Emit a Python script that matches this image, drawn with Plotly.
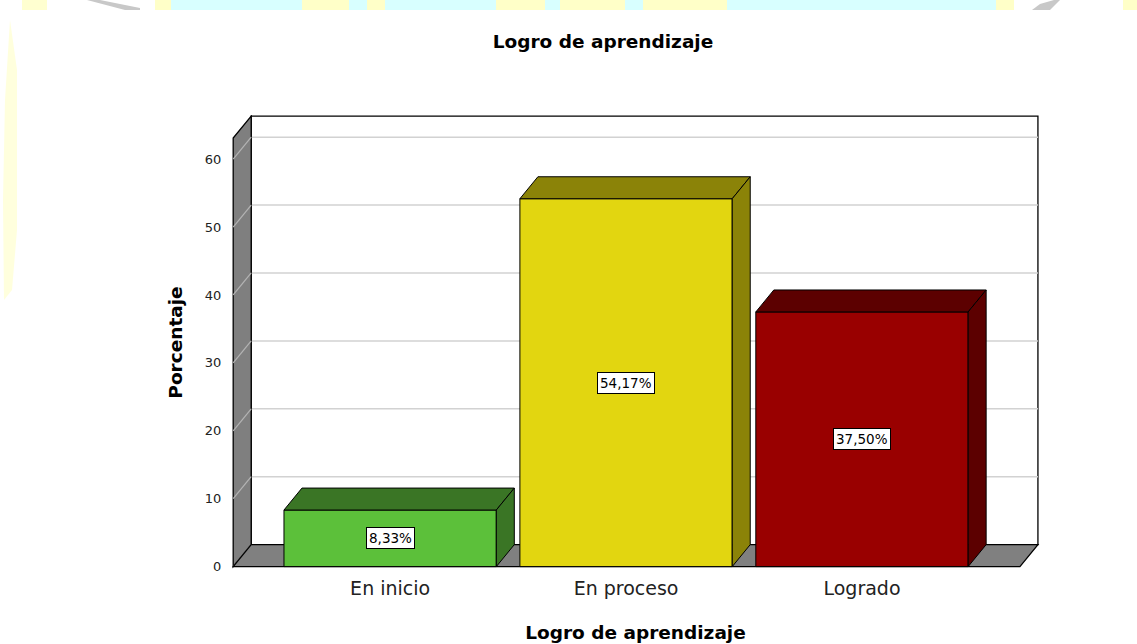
import plotly.graph_objects as go

# ---------------- data ----------------
categories = ["En inicio", "En proceso", "Logrado"]
percentages = [8.33, 54.17, 37.50]
front_colors = ["#5CC03A", "#E2D610", "#990000"]
dark_colors = ["#3A7525", "#8B8308", "#5C0000"]
y_ticks = [0, 10, 20, 30, 40, 50, 60]
chart_title = "Logro de aprendizaje"
x_title = "Logro de aprendizaje"
y_title = "Porcentaje"

# ---------------- layout constants ----------------
W, H = 1137, 644
M_L, M_R, M_T, M_B = 225, 91, 115, 74
X_RANGE = [-0.70, 2.78]
Y_RANGE = [-0.5, 66.5]
BAR_W = 0.9
DX, DY = 0.0763, 3.235          # 3-D depth offset in axis units
BOX_LEFT, BOX_RIGHT, BOX_TOP = -0.6653, 2.6695, 63.1
FONT = "DejaVu Sans"

PW = W - M_L - M_R
PH = H - M_T - M_B


def px2paper(px, py):
    return (px - M_L) / PW, (H - M_B - py) / PH


fig = go.Figure()

# front faces of the bars
fig.add_trace(go.Bar(
    x=list(range(len(categories))), y=percentages, width=BAR_W,
    marker=dict(color=front_colors, line=dict(color="black", width=1)),
    hoverinfo="skip", showlegend=False,
))

# top and side faces
for i, v in enumerate(percentages):
    l, r = i - BAR_W / 2, i + BAR_W / 2
    fig.add_trace(go.Scatter(
        x=[l, l + DX, r + DX, r, l], y=[v, v + DY, v + DY, v, v],
        mode="lines", fill="toself", fillcolor=dark_colors[i],
        line=dict(color="black", width=1), hoverinfo="skip", showlegend=False,
    ))
    fig.add_trace(go.Scatter(
        x=[r, r + DX, r + DX, r, r], y=[0, DY, v + DY, v, 0],
        mode="lines", fill="toself", fillcolor=dark_colors[i],
        line=dict(color="black", width=1), hoverinfo="skip", showlegend=False,
    ))

shapes = []
# back wall
shapes.append(dict(type="rect", xref="x", yref="y", layer="below",
                   x0=BOX_LEFT + DX, x1=BOX_RIGHT + DX, y0=DY, y1=BOX_TOP + DY,
                   fillcolor="white", line=dict(color="black", width=1.3)))
# grid lines on the back wall
for t in y_ticks[1:]:
    shapes.append(dict(type="line", xref="x", yref="y", layer="below",
                       x0=BOX_LEFT + DX, x1=BOX_RIGHT + DX, y0=t + DY, y1=t + DY,
                       line=dict(color="#d2d2d2", width=1.5)))
# left wall
shapes.append(dict(type="path", xref="x", yref="y", layer="below",
                   path=f"M {BOX_LEFT},0 L {BOX_LEFT + DX},{DY} L {BOX_LEFT + DX},{BOX_TOP + DY} "
                        f"L {BOX_LEFT},{BOX_TOP} Z",
                   fillcolor="#7f7f7f", line=dict(color="black", width=1.3)))
for t in y_ticks:
    shapes.append(dict(type="line", xref="x", yref="y", layer="below",
                       x0=BOX_LEFT, x1=BOX_LEFT + DX, y0=t, y1=t + DY,
                       line=dict(color="#b4b4b4", width=1.2)))
# floor
shapes.append(dict(type="path", xref="x", yref="y", layer="below",
                   path=f"M {BOX_LEFT},0 L {BOX_RIGHT},0 L {BOX_RIGHT + DX},{DY} "
                        f"L {BOX_LEFT + DX},{DY} Z",
                   fillcolor="#808080", line=dict(color="black", width=1.3)))

# faint decorative background (top band + left stripe)
band = [  # (x0, x1, colour)
    (22, 47, "#ffffd0"), (155, 171, "#ffffc8"), (171, 302, "#d8ffff"),
    (302, 349, "#ffffc8"), (349, 367, "#d8ffff"), (367, 385, "#ffffc8"),
    (385, 496, "#d8ffff"), (496, 545, "#ffffc8"), (545, 560, "#d8ffff"),
    (560, 625, "#ffffc8"), (625, 643, "#d8ffff"), (643, 727, "#ffffc8"),
    (727, 996, "#d8ffff"), (996, 1014, "#ffffc8"), (1123, 1137, "#ffffc8"),
]
for x0p, x1p, col in band:
    a0, b0 = px2paper(x0p, 0)
    a1, b1 = px2paper(x1p, 10)
    shapes.append(dict(type="rect", xref="paper", yref="paper", layer="below",
                       x0=a0, x1=a1, y0=b1, y1=b0, fillcolor=col, line=dict(width=0)))
for pts in ([(87, 0), (100, 0), (140, 8), (140, 10), (125, 10)],
            [(1032, 10), (1040, 4), (1054, 0), (1060, 0), (1050, 10)]):
    pp = [px2paper(a, b) for a, b in pts]
    path = "M " + " L ".join(f"{a},{b}" for a, b in pp) + " Z"
    shapes.append(dict(type="path", xref="paper", yref="paper", layer="below",
                       path=path, fillcolor="#c8c8c8", line=dict(width=0)))
stripe = [(10, 20), (17, 70), (17, 230), (12, 290), (4, 300), (3, 200), (5, 100)]
pp = [px2paper(a, b) for a, b in stripe]
shapes.append(dict(type="path", xref="paper", yref="paper", layer="below",
                   path="M " + " L ".join(f"{a},{b}" for a, b in pp) + " Z",
                   fillcolor="rgba(255,255,170,0.4)", line=dict(width=0)))

# value labels
annotations = []
for i, v in enumerate(percentages):
    annotations.append(dict(
        x=i, y=v / 2, xref="x", yref="y", showarrow=False,
        text=f"{v:.2f}%".replace(".", ","),
        font=dict(family=FONT, size=13.5, color="black"),
        bgcolor="white", bordercolor="black", borderwidth=1, borderpad=2,
    ))

fig.update_layout(
    width=W, height=H, autosize=False,
    margin=dict(l=M_L, r=M_R, t=M_T, b=M_B),
    paper_bgcolor="white", plot_bgcolor="rgba(0,0,0,0)",
    showlegend=False, shapes=shapes, annotations=annotations,
    title=dict(text=chart_title, x=603 / W, xref="container", xanchor="center",
               y=1 - 42 / H, yref="container", yanchor="middle",
               font=dict(family=FONT, size=18.5, color="black", weight="bold")),
    xaxis=dict(range=X_RANGE, tickvals=list(range(len(categories))), ticktext=categories,
               showgrid=False, zeroline=False, showline=False, automargin=False,
               ticks="outside", ticklen=1, tickcolor="rgba(0,0,0,0)",
               tickfont=dict(family=FONT, size=19, color="#222222"),
               title=dict(text=x_title, standoff=28,
                          font=dict(family=FONT, size=18.5, color="black", weight="bold")),
               fixedrange=True),
    yaxis=dict(range=Y_RANGE, tickvals=y_ticks, showgrid=False, zeroline=False,
               showline=False, automargin=False, ticks="outside", ticklen=0,
               tickcolor="rgba(0,0,0,0)",
               tickfont=dict(family=FONT, size=13, color="#222222"),
               title=dict(text=y_title, standoff=17,
                          font=dict(family=FONT, size=18.5, color="black", weight="bold")),
               fixedrange=True),
)

fig.write_html("out.html", config={"displayModeBar": False},
               post_script="document.body.style.margin='0';document.body.style.overflow='hidden';")
